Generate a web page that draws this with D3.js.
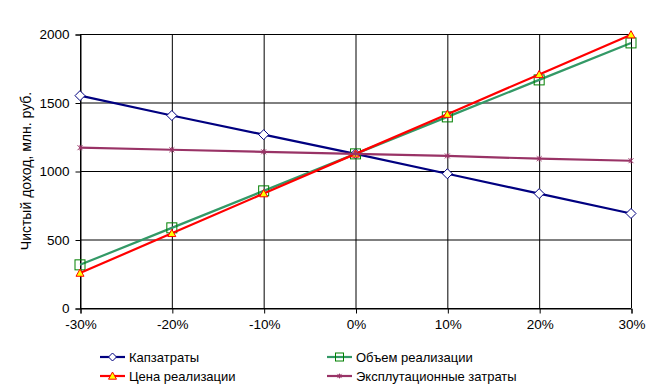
<!DOCTYPE html>
<html>
<head>
<meta charset="utf-8">
<script src="https://cdn.jsdelivr.net/npm/d3@7"></script>
<style>
  body { margin: 0; background: #fff; }
  svg text { font-family: "Liberation Sans", Arial, sans-serif; }
</style>
</head>
<body>
<svg id="chart"></svg>
<script>
const categories = ["-30%", "-20%", "-10%", "0%", "10%", "20%", "30%"];
const yTicks = [0, 500, 1000, 1500, 2000];

const kapzatraty = [1550, 1405, 1265, 1125, 980, 835, 690];
const obiem = [315, 585, 855, 1125, 1395, 1665, 1935];
const cena = [255, 545, 835, 1125, 1415, 1705, 1995];
const ekspl = [1170, 1155, 1140, 1125, 1110, 1090, 1075];

const series = [
    { name: "Капзатраты", values: kapzatraty, color: "#000080", marker: "diamond" },
    { name: "Объем реализации", values: obiem, color: "#339966", marker: "square" },
    { name: "Цена реализации", values: cena, color: "#ff0000", marker: "triangle" },
    { name: "Эксплутационные затраты", values: ekspl, color: "#993366", marker: "cross" }
];

const width = 672, height = 390;
const margin = { left: 80, right: 41, top: 34, bottom: 82 };

const svg = d3.select("#chart")
    .attr("width", width)
    .attr("height", height);

const x = d3.scalePoint()
    .domain(categories)
    .range([margin.left, width - margin.right]);

const y = d3.scaleLinear()
    .domain([0, 2000])
    .range([height - margin.bottom, margin.top]);

// gridlines
svg.append("g")
    .selectAll("line")
    .data(yTicks)
    .enter()
    .append("line")
    .attr("x1", margin.left)
    .attr("x2", width - margin.right)
    .attr("y1", d => y(d) + 0.5)
    .attr("y2", d => y(d) + 0.5)
    .attr("stroke", "#000")
    .attr("stroke-width", 1);

svg.append("g")
    .selectAll("line")
    .data(categories)
    .enter()
    .append("line")
    .attr("x1", d => x(d) + 0.5)
    .attr("x2", d => x(d) + 0.5)
    .attr("y1", margin.top)
    .attr("y2", height - margin.bottom)
    .attr("stroke", "#000")
    .attr("stroke-width", 1);

// axes
const yAxis = svg.append("g")
    .attr("transform", `translate(${margin.left + 0.5},0.5)`)
    .call(d3.axisLeft(y).tickValues(yTicks).tickFormat(d3.format("d")).tickSize(5).tickPadding(6));

const xAxis = svg.append("g")
    .attr("transform", `translate(0.5,${height - margin.bottom + 0.5})`)
    .call(d3.axisBottom(x).tickSize(5).tickPadding(6));

[yAxis, xAxis].forEach(a => {
    a.select(".domain").attr("stroke", "#000");
    a.selectAll(".tick line").attr("stroke", "#000");
    a.selectAll(".tick text")
        .attr("fill", "#000")
        .attr("font-size", 13.5)
        .attr("font-family", "Liberation Sans, Arial, sans-serif");
});

// y title
svg.append("text")
    .attr("transform", `translate(31,${(margin.top + height - margin.bottom) / 2}) rotate(-90)`)
    .attr("text-anchor", "middle")
    .attr("font-size", 14)
    .attr("fill", "#000")
    .text("Чистый доход, млн. руб.");

function drawMarker(g, type, color, size) {
    const s = size;
    if (type === "diamond") {
        g.append("path")
            .attr("d", `M0,${-s}L${s},0L0,${s}L${-s},0Z`)
            .attr("fill", "#fff")
            .attr("stroke", color)
            .attr("stroke-width", 1);
    } else if (type === "square") {
        g.append("rect")
            .attr("x", -s).attr("y", -s)
            .attr("width", 2 * s).attr("height", 2 * s)
            .attr("fill", "none")
            .attr("stroke", "#008000")
            .attr("stroke-width", 1);
    } else if (type === "triangle") {
        g.append("path")
            .attr("d", `M0,${-s}L${s},${s * 0.8}L${-s},${s * 0.8}Z`)
            .attr("fill", "#ffff00")
            .attr("stroke", color)
            .attr("stroke-width", 1);
    } else if (type === "cross") {
        g.append("path")
            .attr("d", `M${-s * 0.7},${-s * 0.7}L${s * 0.7},${s * 0.7}M${-s * 0.7},${s * 0.7}L${s * 0.7},${-s * 0.7}M0,${-s * 0.8}L0,${s * 0.8}`)
            .attr("stroke", color)
            .attr("stroke-width", 1);
    }
}

const markerSize = { diamond: 5, square: 5, triangle: 4, cross: 3.5 };

const line = d3.line()
    .x((d, i) => x(categories[i]))
    .y(d => y(d));

series.forEach(s => {
    const g = svg.append("g");
    g.append("path")
        .datum(s.values)
        .attr("d", line)
        .attr("fill", "none")
        .attr("stroke", s.color)
        .attr("stroke-width", 2.2);

    g.selectAll(".m")
        .data(s.values)
        .enter()
        .append("g")
        .attr("transform", (d, i) => `translate(${x(categories[i])},${y(d)})`)
        .each(function () {
            drawMarker(d3.select(this), s.marker, s.color, markerSize[s.marker]);
        });
});

// legend
const legendPos = [
    { x: 100, y: 357 },
    { x: 327, y: 357 },
    { x: 100, y: 376 },
    { x: 327, y: 376 }
];

series.forEach((s, i) => {
    const p = legendPos[i];
    const g = svg.append("g").attr("transform", `translate(${p.x},${p.y})`);
    g.append("line")
        .attr("x1", 0).attr("x2", 25)
        .attr("y1", 0).attr("y2", 0)
        .attr("stroke", s.color)
        .attr("stroke-width", 2.2);
    const m = g.append("g").attr("transform", "translate(12.5,0)");
    drawMarker(m, s.marker, s.color, s.marker === "cross" ? 3 : 4);
    g.append("text")
        .attr("x", 29)
        .attr("y", 5)
        .attr("font-size", 13)
        .attr("fill", "#000")
        .text(s.name);
});
</script>
</body>
</html>
